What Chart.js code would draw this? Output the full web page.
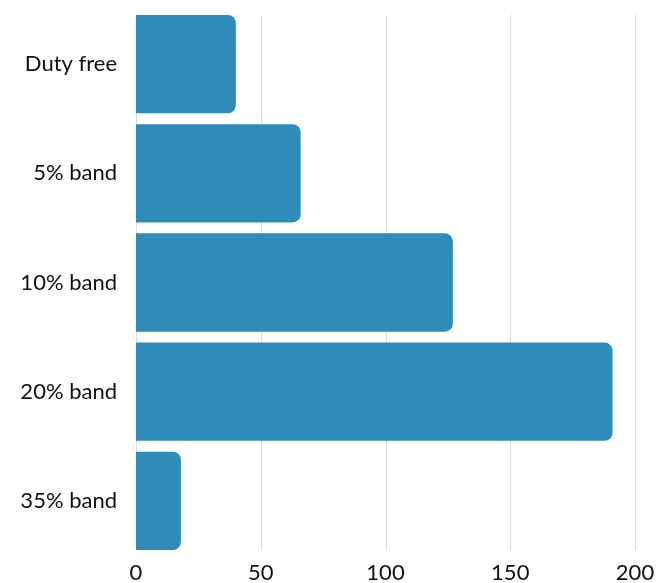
<!DOCTYPE html>
<html>
<head>
<meta charset="utf-8">
<script src="https://cdn.jsdelivr.net/npm/chart.js@4.4.1/dist/chart.umd.min.js"></script>
<style>
  html, body { margin: 0; padding: 0; background: #fff; }
  #wrap { width: 657px; height: 583px; }
</style>
</head>
<body>
<div id="wrap"><canvas id="myChart"></canvas></div>
<script>
const bands = ['Duty free', '5% band', '10% band', '20% band', '35% band'];
const counts = [40, 66, 127, 191, 18];
const xTicks = [0, 50, 100, 150, 200];

// vertical grid lines, kept to the span the bars actually cover
const gridLines = {
  id: 'gridLines',
  beforeDatasetsDraw(chart) {
    const { ctx, scales: { x, y } } = chart;
    const half = y.getPixelForValue(1) - y.getPixelForValue(0);
    const top = y.getPixelForValue(0) - half * 0.45;
    const bottom = y.getPixelForValue(bands.length - 1) + half * 0.45;
    ctx.save();
    ctx.strokeStyle = '#dcdcdc';
    ctx.lineWidth = 1;
    xTicks.forEach(v => {
      const px = Math.round(x.getPixelForValue(v)) + 0.5;
      ctx.beginPath();
      ctx.moveTo(px, top);
      ctx.lineTo(px, bottom);
      ctx.stroke();
    });
    ctx.restore();
  }
};

const ctx = document.getElementById('myChart').getContext('2d');

new Chart(ctx, {
  type: 'bar',
  data: {
    labels: bands,
    datasets: [{
      data: counts,
      backgroundColor: '#2e8bba',
      borderRadius: 8,
      barPercentage: 0.9,
      categoryPercentage: 1.0
    }]
  },
  options: {
    indexAxis: 'y',
    responsive: true,
    maintainAspectRatio: false,
    animation: false,
    layout: { padding: { top: 9.5, right: 22, left: 0, bottom: 0 } },
    plugins: { legend: { display: false }, tooltip: { enabled: false } },
    scales: {
      x: {
        min: 0,
        max: 200,
        afterBuildTicks: (axis) => { axis.ticks = xTicks.map(v => ({ value: v })); },
        afterFit: (scale) => { scale.height = 27.5; scale.paddingLeft = 0; scale.paddingRight = 0; },
        grid: { display: false, drawTicks: false },
        border: { display: false },
        ticks: { color: '#111', padding: 4, font: { family: 'Lato', size: 22 } }
      },
      y: {
        afterFit: (scale) => { scale.width = 136; scale.paddingTop = 0; scale.paddingBottom = 0; },
        grid: { display: false, drawTicks: false },
        border: { display: false },
        ticks: { color: '#111', padding: 19, font: { family: 'Lato', size: 22 } }
      }
    }
  },
  plugins: [gridLines]
});
</script>
</body>
</html>
